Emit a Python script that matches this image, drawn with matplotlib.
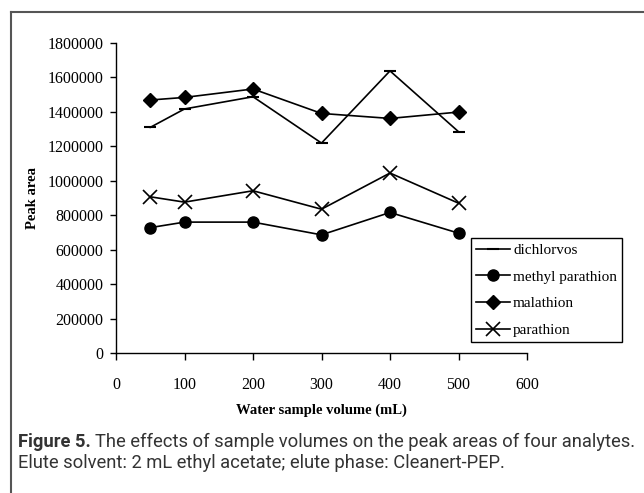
import matplotlib.pyplot as plt
from matplotlib.lines import Line2D

# sample volumes (mL)
volume = [50, 100, 200, 300, 400, 500]

# peak areas
dichlorvos = [1310000, 1417000, 1488000, 1219000, 1638000, 1285000]
methyl_parathion = [728000, 760000, 760000, 686000, 816000, 696000]
malathion = [1469000, 1484000, 1533000, 1391000, 1362000, 1399000]
parathion = [907000, 876000, 942000, 835000, 1045000, 870000]

x_ticks = [0, 100, 200, 300, 400, 500, 600]
y_ticks = list(range(0, 1800001, 200000))

serif = ["Liberation Serif", "DejaVu Serif"]
sans = ["Roboto", "Liberation Sans", "DejaVu Sans"]

fig = plt.figure(figsize=(6.44, 4.93), dpi=100)
W, H = 644, 493
ax = fig.add_axes([116 / W, 1 - 353 / H, (527 - 116) / W, (353 - 43) / H])

ax.plot(volume, dichlorvos, color="black", lw=1.2, marker="_", ms=9, mew=1.5,
        label="dichlorvos")
ax.plot(volume, methyl_parathion, color="black", lw=1.2, marker="o", ms=8,
        label="methyl parathion")
ax.plot(volume, malathion, color="black", lw=1.2, marker="D", ms=7.5,
        label="malathion")
ax.plot(volume, parathion, color="black", lw=1.2, marker="x", ms=10, mew=1.2,
        label="parathion")

ax.set_xlim(0, 600)
ax.set_ylim(0, 1800000)
ax.set_xticks(x_ticks)
ax.set_yticks(y_ticks)
ax.set_xticklabels([str(v) for v in x_ticks], fontfamily=serif, fontsize=11.5)
ax.set_yticklabels([str(v) for v in y_ticks], fontfamily=serif, fontsize=11.5)
ax.tick_params(axis="x", direction="out", length=5, width=1, pad=12)
ax.tick_params(axis="y", direction="out", length=4, width=1, pad=5)
for s in ["top", "right"]:
    ax.spines[s].set_visible(False)
for s in ["left", "bottom"]:
    ax.spines[s].set_linewidth(1)

ax.set_xlabel("Water sample volume (mL)", fontfamily=serif, fontweight="bold",
              fontsize=10.5, labelpad=8)
ax.set_ylabel("Peak area", fontfamily=serif, fontweight="bold", fontsize=10.5,
              labelpad=6)

leg = fig.legend(loc="upper left", bbox_to_anchor=(471 / W, 1 - 238 / H),
                 prop={"family": serif, "size": 11}, frameon=True,
                 fancybox=False, edgecolor="black", framealpha=1,
                 handlelength=2.2, handletextpad=0.2, borderpad=0.35,
                 labelspacing=0.85, borderaxespad=0)
leg.get_frame().set_linewidth(1)

# outer frame of the figure panel
fig.add_artist(Line2D([11 / W, 11 / W], [0, 1 - 12 / H], color="#555555", lw=1.5))
fig.add_artist(Line2D([11 / W, 1], [1 - 12 / H, 1 - 12 / H], color="#555555", lw=1.5))

# caption
cap_size = 13.2
cap1 = fig.text(18 / W, 1 - 447 / H, "Figure 5.", fontfamily=sans,
                fontsize=cap_size, fontweight="bold", color="#333333",
                va="baseline")
fig.canvas.draw()
bb = cap1.get_window_extent()
cap2 = fig.text((bb.x1 + 4) / W, 1 - 447 / H,
                "The effects of sample volumes on the peak areas of four analytes.",
                fontfamily=sans, fontsize=cap_size, color="#333333", va="baseline")
cap3 = fig.text(18 / W, 1 - 468 / H,
                "Elute solvent: 2 mL ethyl acetate; elute phase: Cleanert-PEP.",
                fontfamily=sans, fontsize=cap_size, color="#333333", va="baseline")

plt.savefig("out.png", dpi=100)
